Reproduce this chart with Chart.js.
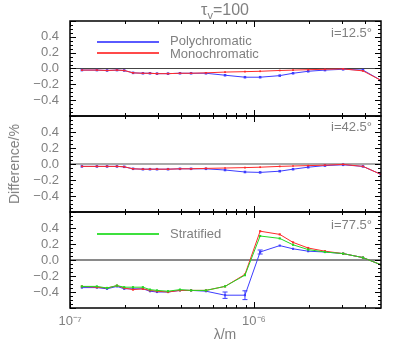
<!DOCTYPE html>
<html>
<head>
<meta charset="utf-8">
<script src="https://cdn.jsdelivr.net/npm/chart.js@4/dist/chart.umd.min.js"></script>
<style>
  body { margin:0; background:#fff; }
  #wrap { position:relative; width:407px; height:350px; overflow:hidden; font-family:"Liberation Sans","DejaVu Sans",sans-serif; color:#808080; }
  canvas { position:absolute; left:0; }
  .t { position:absolute; white-space:nowrap; line-height:1; }
  .ln { position:absolute; height:2px; }
</style>
</head>
<body>
<div id="wrap">
  <canvas id="c1" width="407" height="115" style="top:11px"></canvas>
  <canvas id="c2" width="407" height="116" style="top:106px"></canvas>
  <canvas id="c3" width="407" height="148" style="top:202px"></canvas>

  <div class="t" style="left:225px;top:10px;transform:translate(-50%,-50%);font-size:16px">τ<span style="font-size:11px;position:relative;top:4px">v</span>=100</div>
  <div class="t" style="left:14px;top:164px;transform:translate(-50%,-50%) rotate(-90deg);font-size:14px">Difference/%</div>
  <div class="t" style="left:225px;top:334px;transform:translate(-50%,-50%);font-size:14px">λ/m</div>

  <div class="t" style="right:35px;top:32px;transform:translateY(-50%);font-size:13px">i=12.5°</div>
  <div class="t" style="right:35px;top:126px;transform:translateY(-50%);font-size:13px">i=42.5°</div>
  <div class="t" style="right:35px;top:224px;transform:translateY(-50%);font-size:13px">i=77.5°</div>

  <div class="ln" style="left:97px;top:41px;width:62px;background:#5a5aff"></div>
  <div class="t" style="left:170px;top:40px;transform:translateY(-50%);font-size:13px">Polychromatic</div>
  <div class="ln" style="left:97px;top:52px;width:62px;background:#ff4a4a"></div>
  <div class="t" style="left:170px;top:53px;transform:translateY(-50%);font-size:13px">Monochromatic</div>
  <div class="ln" style="left:97px;top:233px;width:62px;background:#3ee03e"></div>
  <div class="t" style="left:170px;top:233px;transform:translateY(-50%);font-size:13px">Stratified</div>
</div>
<script>
// ---- data (wavelength in metres, difference in %) ----
const lambda = [1.16e-7, 1.40e-7, 1.59e-7, 1.80e-7, 1.97e-7, 2.20e-7, 2.49e-7, 2.72e-7, 2.97e-7, 3.41e-7, 3.96e-7, 4.55e-7, 5.48e-7, 6.96e-7, 8.93e-7, 1.08e-6, 1.38e-6, 1.63e-6, 1.97e-6, 2.43e-6, 3.05e-6, 3.91e-6, 4.9e-6];

const poly12 = [-0.02,-0.02,-0.025,-0.02,-0.025,-0.055,-0.06,-0.06,-0.065,-0.065,-0.06,-0.06,-0.06,-0.085,-0.11,-0.11,-0.09,-0.06,-0.035,-0.02,-0.01,-0.02,-0.15];
const mono12 = [-0.02,-0.02,-0.025,-0.02,-0.025,-0.055,-0.06,-0.06,-0.065,-0.065,-0.06,-0.06,-0.055,-0.045,-0.04,-0.035,-0.025,-0.02,-0.015,-0.01,-0.005,-0.03,-0.15];

const poly42 = [-0.03,-0.03,-0.03,-0.03,-0.035,-0.06,-0.065,-0.065,-0.065,-0.065,-0.06,-0.06,-0.06,-0.075,-0.10,-0.105,-0.09,-0.065,-0.04,-0.02,-0.01,-0.03,-0.13];
const mono42 = [-0.03,-0.03,-0.03,-0.03,-0.035,-0.06,-0.065,-0.065,-0.065,-0.065,-0.06,-0.06,-0.055,-0.05,-0.045,-0.04,-0.03,-0.025,-0.02,-0.015,-0.005,-0.03,-0.13];

const poly77 = [-0.345,-0.345,-0.36,-0.33,-0.36,-0.36,-0.36,-0.39,-0.40,-0.40,-0.38,-0.38,-0.39,-0.44,-0.44,0.10,0.18,0.14,0.11,0.10,0.08,0.03,-0.06];
const polyErr77 = [0,0,0,0,0,0,0,0,0,0,0,0,0,0.04,0.055,0.025,0,0,0,0,0,0,0];
const mono77 = [-0.33,-0.34,-0.35,-0.32,-0.35,-0.37,-0.36,-0.38,-0.39,-0.40,-0.38,-0.38,-0.38,-0.33,-0.18,0.36,0.32,0.22,0.15,0.11,0.08,0.03,-0.06];
const strat77 = [-0.33,-0.33,-0.35,-0.32,-0.34,-0.34,-0.34,-0.37,-0.38,-0.39,-0.37,-0.38,-0.38,-0.33,-0.19,0.30,0.27,0.19,0.13,0.10,0.08,0.03,-0.06];

const yTickLabels = [-0.4, -0.2, 0.0, 0.2, 0.4];
const xTickLabels = [1e-7, 1e-6];
const xLabelText = ['10⁻⁷', '10⁻⁶'];
const xRange = [1e-7, 4.9e-6];
const yRange = [-0.6, 0.6];

// ---- styles ----
const BLUE = '#3c3cff', RED = '#ff2a2a', GREEN = '#22d822', TXT = '#808080';

function pts(vals) { return vals.map((v, i) => ({x: lambda[i], y: v})); }

function series(vals, color, r) {
  return { data: pts(vals), borderColor: color, backgroundColor: color, borderWidth: 1,
           pointStyle: 'rect', pointRadius: r, pointBorderWidth: 0, tension: 0 };
}
function zeroLine(color, w) {
  return { data: [{x: xRange[0], y: 0}, {x: xRange[1], y: 0}], borderColor: color, borderWidth: w,
           pointRadius: 0 };
}
function errBars(vals, errs, color) {
  const out = [];
  errs.forEach((e, i) => {
    if (e > 0) out.push({ data: [{x: lambda[i], y: vals[i] - e}, {x: lambda[i], y: vals[i] + e}],
      borderColor: color, backgroundColor: color, borderWidth: 1,
      pointStyle: 'line', pointRadius: 2.5, pointBorderWidth: 1, pointBorderColor: color });
  });
  return out;
}

const framePlugin = {
  id: 'frame',
  afterDraw(chart) {
    const {ctx, chartArea: a, scales: {x, y}} = chart;
    ctx.save();
    ctx.strokeStyle = '#000';
    ctx.lineWidth = 1;
    ctx.beginPath();
    for (let i = 0; i <= 24; i++) {
      const v = yRange[0] + 0.05 * i;
      const py = Math.round(y.getPixelForValue(v)) + 0.5;
      const len = (i % 4 === 0) ? 6 : 3;
      ctx.moveTo(a.left, py); ctx.lineTo(a.left + len, py);
      ctx.moveTo(a.right, py); ctx.lineTo(a.right - len, py);
    }
    for (let d = -7; d <= -6; d++) {
      for (let m = 1; m <= 9; m++) {
        const v = m * Math.pow(10, d);
        if (v < xRange[0] * 0.999 || v > xRange[1]) continue;
        const px = Math.round(x.getPixelForValue(v)) + 0.5;
        const len = (m === 1) ? 6 : 3;
        ctx.moveTo(px, a.bottom); ctx.lineTo(px, a.bottom - len);
        ctx.moveTo(px, a.top); ctx.lineTo(px, a.top + len);
      }
    }
    ctx.stroke();
    ctx.lineWidth = 1.5;
    ctx.strokeRect(a.left, a.top, a.right - a.left, a.bottom - a.top);
    ctx.restore();
  }
};

function makeChart(id, datasets, showX) {
  const fmt = v => (Math.abs(v) < 1e-9 ? '0.0' : v.toFixed(1).replace('-', '−'));
  new Chart(document.getElementById(id), {
    type: 'line',
    data: { datasets },
    plugins: [framePlugin],
    options: {
      responsive: false, animation: false, maintainAspectRatio: false,
      devicePixelRatio: 1,
      layout: { padding: { top: 10, bottom: 10, left: 0, right: 26 } },
      plugins: { legend: { display: false }, tooltip: { enabled: false }, title: { display: false } },
      scales: {
        x: {
          type: 'logarithmic', min: xRange[0], max: xRange[1], display: showX,
          grid: { display: false, drawTicks: false }, border: { display: false },
          afterBuildTicks: s => { s.ticks = xTickLabels.map(v => ({value: v})); },
          afterFit: s => { s.height = showX ? 32 : 0; s.paddingLeft = 0; s.paddingRight = 0; s.paddingTop = 0; s.paddingBottom = 0; },
          ticks: { autoSkip: false, maxRotation: 0, padding: 6, color: TXT,
                   font: { family: 'Liberation Sans', size: 13 },
                   callback: (v) => { const k = xTickLabels.findIndex(t => Math.abs(t - v) / t < 1e-6); return k >= 0 ? xLabelText[k] : ''; } }
        },
        y: {
          type: 'linear', min: yRange[0], max: yRange[1],
          grid: { display: false, drawTicks: false }, border: { display: false },
          afterBuildTicks: s => { s.ticks = yTickLabels.map(v => ({value: v})); },
          afterFit: s => { s.width = 70; s.paddingTop = 0; s.paddingBottom = 0; s.paddingLeft = 0; s.paddingRight = 0; },
          ticks: { padding: 11, color: TXT, font: { family: 'Liberation Sans', size: 13 }, callback: fmt }
        }
      }
    }
  });
}

makeChart('c1', [series(mono12, RED, 1.2), series(poly12, BLUE, 1.8), zeroLine('#444', 1)], false);
makeChart('c2', [series(mono42, RED, 1.2), series(poly42, BLUE, 1.8), zeroLine('#555', 1.2)], false);
makeChart('c3', [series(strat77, GREEN, 1.5), series(mono77, RED, 1.5), ...errBars(poly77, polyErr77, BLUE), series(poly77, BLUE, 1.5), zeroLine('#8a8a8a', 2)], true);
</script>
</body>
</html>
